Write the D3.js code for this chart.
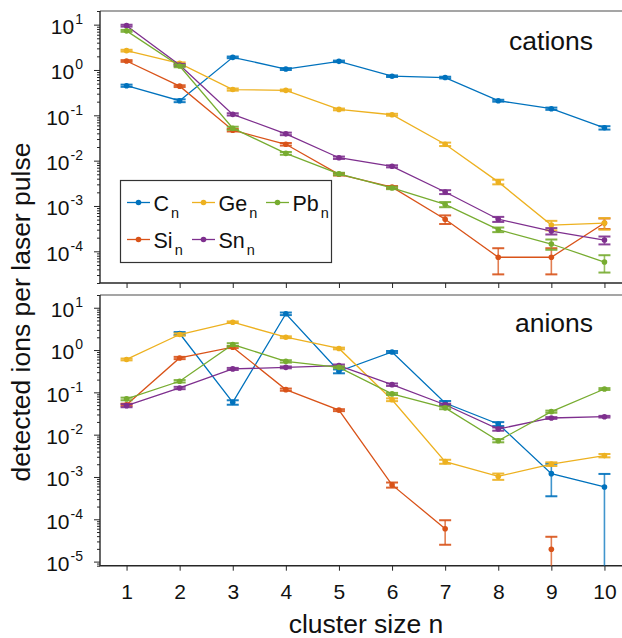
<!DOCTYPE html>
<html>
<head>
<meta charset="utf-8">
<script src="https://cdn.jsdelivr.net/npm/d3@7"></script>
<style>
  html, body { margin: 0; padding: 0; background: #fff; }
  svg { display: block; font-family: "Liberation Sans", Arial, Helvetica, sans-serif; }
</style>
</head>
<body>
<svg id="chart" width="622" height="638"></svg>
<script>
// cluster sizes on the x axis
const clusterSizes = [1, 2, 3, 4, 5, 6, 7, 8, 9, 10];
const xTickLabels = ["1", "2", "3", "4", "5", "6", "7", "8", "9", "10"];

// species (plot order) and their colours
const species = ["C", "Si", "Ge", "Sn", "Pb"];
const speciesColors = ["#0072BD", "#D95319", "#EDB120", "#7E2F8E", "#77AC30"];

// cations: detected ions per laser pulse, and +/- uncertainty
const cationC  = [0.45, 0.21, 1.9, 1.05, 1.55, 0.73, 0.68, 0.21, 0.14, 0.053];
const cationSi = [1.58, 0.44, 0.047, 0.023, 0.0050, 0.0026, 5.1e-4, 7.4e-5, 7.4e-5, 4.2e-4];
const cationGe = [2.67, 1.4, 0.37, 0.355, 0.135, 0.103, 0.023, 0.0034, 3.8e-4, 4.2e-4];
const cationSn = [9.5, 1.29, 0.105, 0.039, 0.0116, 0.0075, 0.00203, 5.1e-4, 2.8e-4, 1.77e-4];
const cationPb = [7.3, 1.22, 0.052, 0.0145, 0.0051, 0.0025, 0.00108, 3.0e-4, 1.45e-4, 5.8e-5];

const cationErrC  = [0.025, 0.015, 0.08, 0.05, 0.06, 0.03, 0.03, 0.01, 0.008, 0.0045];
const cationErrSi = [0.07, 0.02, 0.003, 0.0015, 0.0003, 0.00015, 1.1e-4, 4.3e-5, 4.3e-5, 1.1e-4];
const cationErrGe = [0.12, 0.07, 0.02, 0.015, 0.006, 0.005, 0.002, 4e-4, 9e-5, 1.2e-4];
const cationErrSn = [0.45, 0.07, 0.006, 0.0025, 0.0007, 0.0004, 2e-4, 6.5e-5, 4.5e-5, 3.5e-5];
const cationErrPb = [0.35, 0.07, 0.004, 0.001, 0.0003, 0.00015, 1.4e-4, 3.5e-5, 3.7e-5, 2.4e-5];

// anions: detected ions per laser pulse (null = not detected), and +/- uncertainty
const anionC  = [null, 2.46, 0.058, 7.2, 0.315, 0.9, 0.056, 0.0179, 0.0012, 5.8e-4];
const anionSi = [0.051, 0.65, 1.17, 0.116, 0.038, 6.5e-4, 6.0e-5, null, 1.96e-5, null];
const anionGe = [0.6, 2.33, 4.55, 2.01, 1.09, 0.067, 0.0023, 0.00103, 0.00202, 0.0032];
const anionSn = [0.0485, 0.127, 0.358, 0.39, 0.43, 0.152, 0.051, 0.0136, 0.0248, 0.0266];
const anionPb = [0.07, 0.183, 1.35, 0.54, 0.39, 0.092, 0.043, 0.0072, 0.035, 0.12];

const anionErrC  = [null, 0.2, 0.007, 0.5, 0.033, 0.05, 0.0064, 0.0019, 8.5e-4, 6e-4];
const anionErrSi = [0.003, 0.04, 0.06, 0.007, 0.002, 9e-5, 3.5e-5, null, 1.9e-5, null];
const anionErrGe = [0.03, 0.15, 0.2, 0.1, 0.05, 0.005, 2.5e-4, 1.75e-4, 2e-4, 2.9e-4];
const anionErrSn = [0.004, 0.008, 0.02, 0.02, 0.025, 0.01, 0.003, 0.0012, 0.0012, 0.0012];
const anionErrPb = [0.005, 0.012, 0.1, 0.035, 0.02, 0.005, 0.003, 6e-4, 0.002, 0.006];

const cationValues = [cationC, cationSi, cationGe, cationSn, cationPb];
const cationErrors = [cationErrC, cationErrSi, cationErrGe, cationErrSn, cationErrPb];
const anionValues  = [anionC, anionSi, anionGe, anionSn, anionPb];
const anionErrors  = [anionErrC, anionErrSi, anionErrGe, anionErrSn, anionErrPb];

// legend layout: two rows, filled column-wise
const legendOrder = ["C", "Ge", "Pb", "Si", "Sn"];

const svg = d3.select("#chart");
const FONT_TICK = 21, FONT_SUP = 14, FONT_XTICK = 21, FONT_LABEL = 26.5, FONT_TAG = 26.5, FONT_LEG = 21.5, FONT_SUB = 14.5;

const x = d3.scaleLinear().domain([0.5, 10.5]).range([100, 631]);

const panels = [
  { name: "cations", values: cationValues, errors: cationErrors,
    y: d3.scaleLog().domain([2e-5, 20]).range([283, 11]), majors: d3.range(-4, 2), showX: false },
  { name: "anions", values: anionValues, errors: anionErrors,
    y: d3.scaleLog().domain([8e-6, 20]).range([565.7, 295]), majors: d3.range(-5, 2), showX: true }
];

panels.forEach((p, pi) => {
  const y = p.y;
  const [yb, yt] = y.range();
  const g = svg.append("g");
  const clipId = "clip" + pi;
  svg.append("clipPath").attr("id", clipId)
    .append("rect").attr("x", x.range()[0]).attr("y", yt)
    .attr("width", x.range()[1] - x.range()[0]).attr("height", yb - yt);

  // minor y ticks (2..9 per decade)
  const [d0, d1] = y.domain();
  const minors = [];
  for (let e = Math.floor(Math.log10(d0)); e <= Math.ceil(Math.log10(d1)); e++) {
    for (let m = 2; m <= 9; m++) {
      const v = m * Math.pow(10, e);
      if (v >= d0 && v <= d1) minors.push(v);
    }
  }
  g.append("g").attr("transform", `translate(${x.range()[0]},0)`)
    .call(d3.axisLeft(y).tickValues(minors).tickSize(3).tickFormat(""))
    .call(a => a.select(".domain").remove())
    .call(a => a.selectAll("line").attr("stroke", "#262626"));

  // major y ticks with 10^n labels
  const majorVals = p.majors.map(e => Math.pow(10, e));
  const yAxis = g.append("g").attr("transform", `translate(${x.range()[0]},0)`)
    .call(d3.axisLeft(y).tickValues(majorVals).tickSize(6).tickPadding(11).tickFormat(() => "10"));
  yAxis.select(".domain").remove();
  yAxis.selectAll("line").attr("stroke", "#262626");
  yAxis.selectAll("text")
    .attr("font-size", FONT_TICK).attr("fill", "#111").attr("font-family", null)
    .attr("dy", "0.42em")
    .each(function (d) {
      const e = Math.round(Math.log10(d));
      d3.select(this).append("tspan")
        .attr("font-size", FONT_SUP).attr("dy", "-0.72em").attr("dx", "1")
        .text(e < 0 ? "-" + Math.abs(e) : String(e));
    });

  // x ticks at the bottom of each panel
  const xAxis = g.append("g").attr("transform", `translate(0,${yb})`)
    .call(d3.axisBottom(x).tickValues(clusterSizes).tickSize(5).tickPadding(13)
      .tickFormat((d, i) => p.showX ? xTickLabels[i] : ""));
  xAxis.select(".domain").remove();
  xAxis.selectAll("line").attr("stroke", "#262626");
  xAxis.selectAll("text").attr("font-size", FONT_XTICK).attr("fill", "#111").attr("font-family", null);

  // frame
  g.append("line").attr("x1", x.range()[0]).attr("x2", x.range()[1]).attr("y1", yt).attr("y2", yt)
    .attr("stroke", "#4d4d4d").attr("stroke-width", 1.2);
  g.append("line").attr("x1", x.range()[0]).attr("x2", x.range()[0]).attr("y1", yt).attr("y2", yb)
    .attr("stroke", "#262626").attr("stroke-width", 1.4);
  g.append("line").attr("x1", x.range()[0] - 0.5).attr("x2", x.range()[1]).attr("y1", yb).attr("y2", yb)
    .attr("stroke", "#262626").attr("stroke-width", 1.4);

  // data series
  const plot = g.append("g").attr("clip-path", `url(#${clipId})`);
  species.forEach((s, si) => {
    const vals = p.values[si], errs = p.errors[si], col = speciesColors[si];
    const pts = clusterSizes.map((n, i) => ({ n, v: vals[i], e: errs[i] }));
    const sg = plot.append("g");
    const line = d3.line().defined(d => d.v != null).x(d => x(d.n)).y(d => y(d.v));
    sg.append("path").datum(pts).attr("d", line)
      .attr("fill", "none").attr("stroke", col).attr("stroke-width", 1.3);

    const eb = sg.selectAll("g.eb").data(pts.filter(d => d.v != null)).join("g").attr("class", "eb");
    const capW = 6;
    eb.append("line")
      .attr("x1", d => x(d.n)).attr("x2", d => x(d.n))
      .attr("y1", d => y(d.v + d.e))
      .attr("y2", d => d.v - d.e > 0 ? y(d.v - d.e) : yb + 5)
      .attr("stroke", col).attr("stroke-width", 1.6).attr("opacity", 0.75);
    eb.append("line")
      .attr("x1", d => x(d.n) - capW).attr("x2", d => x(d.n) + capW)
      .attr("y1", d => y(d.v + d.e)).attr("y2", d => y(d.v + d.e))
      .attr("stroke", col).attr("stroke-width", 2).attr("opacity", 0.9);
    eb.filter(d => d.v - d.e > 0).append("line")
      .attr("x1", d => x(d.n) - capW).attr("x2", d => x(d.n) + capW)
      .attr("y1", d => y(d.v - d.e)).attr("y2", d => y(d.v - d.e))
      .attr("stroke", col).attr("stroke-width", 2).attr("opacity", 0.9);
    eb.append("circle").attr("cx", d => x(d.n)).attr("cy", d => y(d.v)).attr("r", 2.8).attr("fill", col);
  });

  // panel tag
  g.append("text").attr("x", 593).attr("y", yt + (pi === 0 ? 38.5 : 36.7))
    .attr("text-anchor", "end").attr("font-size", FONT_TAG).attr("fill", "#111").text(p.name);
});

// legend in the cation panel
const leg = svg.append("g");
leg.append("rect").attr("x", 120.5).attr("y", 180.5).attr("width", 211).attr("height", 82)
  .attr("fill", "#fff").attr("stroke", "#333").attr("stroke-width", 1.2);
const legPos = [
  { lx: 127, row: 0 }, { lx: 192, row: 0 }, { lx: 266, row: 0 },
  { lx: 127, row: 1 }, { lx: 192, row: 1 }
];
legendOrder.forEach((s, k) => {
  const lp = legPos[k];
  const col = speciesColors[species.indexOf(s)];
  const ly = lp.row === 0 ? 202.5 : 239.5;
  leg.append("line").attr("x1", lp.lx).attr("x2", lp.lx + 23).attr("y1", ly).attr("y2", ly)
    .attr("stroke", col).attr("stroke-width", 1.3);
  leg.append("circle").attr("cx", lp.lx + 11.5).attr("cy", ly).attr("r", 2.8).attr("fill", col);
  const t = leg.append("text").attr("x", lp.lx + 26.5).attr("y", ly + 8.5)
    .attr("font-size", FONT_LEG).attr("fill", "#111").text(s);
  t.append("tspan").attr("font-size", FONT_SUB).attr("dy", 7).attr("dx", 2).text("n");
});

// axis titles
svg.append("text").attr("x", 366).attr("y", 633).attr("text-anchor", "middle")
  .attr("font-size", FONT_LABEL).attr("fill", "#111").text("cluster size n");
svg.append("text").attr("transform", "translate(30,312) rotate(-90)").attr("text-anchor", "middle")
  .attr("font-size", FONT_LABEL).attr("fill", "#111").text("detected ions per laser pulse");
</script>
</body>
</html>
